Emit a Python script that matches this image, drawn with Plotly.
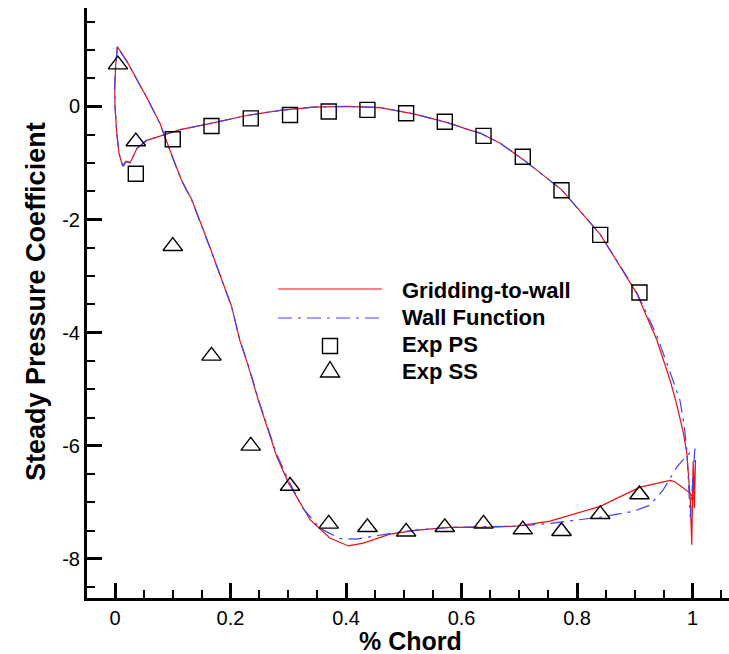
import plotly.graph_objects as go

# ---------------- data ----------------
# Gridding-to-wall (red) : pressure side LE->TE
red_ps_x = [0.004, 0.001, -0.0005, 0.0, 0.003, 0.007, 0.013, 0.019, 0.026, 0.038, 0.055, 0.083, 0.113,
            0.17, 0.228, 0.286, 0.343, 0.401, 0.459, 0.517, 0.574, 0.609, 0.632, 0.667, 0.707, 0.773,
            0.84, 0.903, 0.938, 0.961, 0.972, 0.984, 0.990, 0.996, 0.9985]
red_ps_y = [1.06, 0.70, 0.35, 0.0, -0.47, -0.83, -1.05, -0.97, -1.0, -0.74, -0.60, -0.51, -0.41,
            -0.29, -0.16, -0.07, -0.01, 0.0, -0.02, -0.13, -0.28, -0.40, -0.47, -0.65, -0.94, -1.47,
            -2.26, -3.30, -4.13, -4.84, -5.25, -5.77, -6.13, -6.96, -7.75]
# trailing edge spike
red_te_x = [1.001, 1.003, 1.005, 1.002]
red_te_y = [-6.27, -7.10, -6.25, -6.95]
# suction side LE->TE
red_ss_x = [0.004, 0.02, 0.055, 0.078, 0.095, 0.115, 0.133, 0.164, 0.185, 0.202, 0.216, 0.231, 0.248,
            0.263, 0.28, 0.3, 0.338, 0.372, 0.404, 0.43, 0.476, 0.523, 0.58, 0.637, 0.695, 0.753,
            0.84, 0.909, 0.961, 0.97, 0.978, 0.996]
red_ss_y = [1.06, 0.81, 0.16, -0.30, -0.77, -1.30, -1.65, -2.48, -3.06, -3.54, -4.13, -4.60, -5.19,
            -5.66, -6.19, -6.65, -7.31, -7.63, -7.77, -7.72, -7.56, -7.49, -7.44, -7.44, -7.42, -7.33,
            -7.07, -6.73, -6.61, -6.64, -6.71, -6.84]

# Wall Function (blue)
blue_ps_x = [0.004, 0.001, -0.0005, 0.0, 0.003, 0.007, 0.014, 0.02, 0.027, 0.038, 0.055, 0.083, 0.113,
             0.17, 0.228, 0.286, 0.343, 0.401, 0.459, 0.517, 0.574, 0.609, 0.632, 0.667, 0.707, 0.773,
             0.84, 0.903, 0.938, 0.961, 0.978, 0.985, 0.990, 0.996]
blue_ps_y = [1.05, 0.70, 0.35, 0.0, -0.47, -0.83, -1.06, -0.97, -0.99, -0.74, -0.60, -0.51, -0.41,
             -0.29, -0.16, -0.07, -0.01, 0.0, -0.02, -0.13, -0.28, -0.40, -0.47, -0.65, -0.94, -1.47,
             -2.26, -3.28, -4.05, -4.70, -5.19, -5.60, -6.07, -7.26]
blue_ss_x = [0.004, 0.02, 0.055, 0.078, 0.095, 0.115, 0.133, 0.164, 0.185, 0.202, 0.216, 0.231, 0.248,
             0.263, 0.28, 0.3, 0.325, 0.355, 0.39, 0.418, 0.447, 0.488, 0.523, 0.58, 0.637, 0.695,
             0.753, 0.84, 0.897, 0.926, 0.949, 0.973, 0.99, 1.004]
blue_ss_y = [1.05, 0.80, 0.16, -0.31, -0.78, -1.31, -1.66, -2.49, -3.07, -3.55, -4.12, -4.58, -5.17,
             -5.64, -6.15, -6.60, -7.10, -7.46, -7.64, -7.65, -7.60, -7.53, -7.49, -7.44, -7.43, -7.42,
             -7.37, -7.26, -7.16, -7.05, -6.78, -6.37, -6.17, -6.05]

# Experimental data
exp_ps_x = [0.036, 0.100, 0.167, 0.235, 0.303, 0.370, 0.437, 0.504, 0.571, 0.638, 0.706, 0.773, 0.840, 0.908]
exp_ps_y = [-1.19, -0.58, -0.345, -0.21, -0.15, -0.09, -0.06, -0.12, -0.27, -0.52, -0.89, -1.48, -2.27, -3.29]
exp_ss_x = [0.005, 0.036, 0.100, 0.167, 0.235, 0.303, 0.370, 0.437, 0.504, 0.571, 0.638, 0.706, 0.773, 0.840, 0.908]
exp_ss_y = [0.74, -0.62, -2.47, -4.41, -6.0, -6.71, -7.38, -7.44, -7.52, -7.44, -7.38, -7.48, -7.51, -7.21, -6.86]

legend_labels = ["Gridding-to-wall", "Wall Function", "Exp PS", "Exp SS"]
x_tickvals = [0, 0.2, 0.4, 0.6, 0.8, 1]
x_ticktext = ["0", "0.2", "0.4", "0.6", "0.8", "1"]
y_tickvals = [-8, -6, -4, -2, 0]
y_ticktext = ["-8", "-6", "-4", "-2", "0"]

RED = "#e81010"
BLUE = "#4040ff"
FONT = "Liberation Sans, Arial, Helvetica, sans-serif"

red_x = red_ps_x + red_te_x + red_ss_x[::-1]
red_y = red_ps_y + red_te_y + red_ss_y[::-1]
blue_x = blue_ps_x + blue_ss_x[::-1]
blue_y = blue_ps_y + blue_ss_y[::-1]

fig = go.Figure()
fig.add_trace(go.Scatter(x=red_x, y=red_y, mode="lines", name=legend_labels[0],
                         line=dict(color=RED, width=1.2)))
fig.add_trace(go.Scatter(x=blue_x, y=blue_y, mode="lines", name=legend_labels[1],
                         line=dict(color=BLUE, width=1.2, dash="14px,6px,3px,6px")))
fig.add_trace(go.Scatter(x=exp_ps_x, y=exp_ps_y, mode="markers", name=legend_labels[2],
                         marker=dict(symbol="square-open", size=15, color="black",
                                     line=dict(width=1.4, color="black"))))
fig.add_trace(go.Scatter(x=exp_ss_x, y=exp_ss_y, mode="markers", name=legend_labels[3],
                         marker=dict(symbol="triangle-up-open", size=17, color="black",
                                     line=dict(width=1.4, color="black"))))

# plot-area geometry (pixels) for manual legend
L, R, T, B = 87, 0, 8, 56
W, H = 729, 654
PW, PH = W - L - R, H - T - B


def px(xp):
    return (xp - L) / PW


def py(yp):
    return (H - B - yp) / PH


shapes = [
    dict(type="line", xref="paper", yref="paper", x0=px(278), x1=px(382), y0=py(289), y1=py(289),
         line=dict(color=RED, width=1.2)),
    dict(type="line", xref="paper", yref="paper", x0=px(278), x1=px(382), y0=py(318), y1=py(318),
         line=dict(color=BLUE, width=1.2, dash="14px,6px,3px,6px")),
    dict(type="rect", xref="paper", yref="paper", xsizemode="pixel", ysizemode="pixel",
         xanchor=px(330), yanchor=py(346), x0=-7.5, x1=7.5, y0=-7.5, y1=7.5,
         line=dict(color="black", width=1.4)),
    dict(type="path", xref="paper", yref="paper", xsizemode="pixel", ysizemode="pixel",
         xanchor=px(330), yanchor=py(370), path="M-9.5,-7 L9.5,-7 L0,8.5 Z",
         line=dict(color="black", width=1.4)),
]

annotations = []
for lab, yy in zip(legend_labels, [290, 317, 344, 371]):
    annotations.append(dict(text=lab, xref="paper", yref="paper", x=px(400), y=py(yy),
                            xanchor="left", yanchor="middle", showarrow=False,
                            font=dict(family=FONT, size=22, color="black", weight="bold")))
annotations.append(dict(text="Steady Pressure Coefficient", xref="paper", yref="paper",
                        x=px(36), y=py(302), xanchor="center", yanchor="middle", textangle=-90,
                        showarrow=False, font=dict(family=FONT, size=27, color="black", weight="bold")))
annotations.append(dict(text="% Chord", xref="paper", yref="paper", x=px(411), y=py(641),
                        xanchor="center", yanchor="middle", showarrow=False,
                        font=dict(family=FONT, size=25, color="black", weight="bold")))

axis_common = dict(showline=True, linewidth=3, linecolor="black", showgrid=False, zeroline=False,
                   ticks="inside", ticklen=15, tickwidth=3, tickcolor="black",
                   tickfont=dict(family=FONT, size=20, color="black"), mirror=False)

fig.update_layout(
    width=W, height=H,
    margin=dict(l=L, r=R, t=T, b=B, pad=0),
    plot_bgcolor="white", paper_bgcolor="white",
    showlegend=False,
    font=dict(family=FONT, color="black"),
    xaxis=dict(range=[-0.0485, 1.063], tickmode="array", tickvals=x_tickvals, ticktext=x_ticktext,
               minor=dict(ticks="inside", ticklen=8, tickwidth=1.5, tickcolor="black",
                          tickmode="linear", tick0=0, dtick=0.05, showgrid=False),
               **axis_common),
    yaxis=dict(range=[-8.69, 1.741], tickmode="array", tickvals=y_tickvals, ticktext=y_ticktext,
               minor=dict(ticks="inside", ticklen=8, tickwidth=1.5, tickcolor="black",
                          tickmode="linear", tick0=0, dtick=0.5, showgrid=False),
               **axis_common),
    shapes=shapes,
    annotations=annotations,
)

fig.write_html("out.html")
